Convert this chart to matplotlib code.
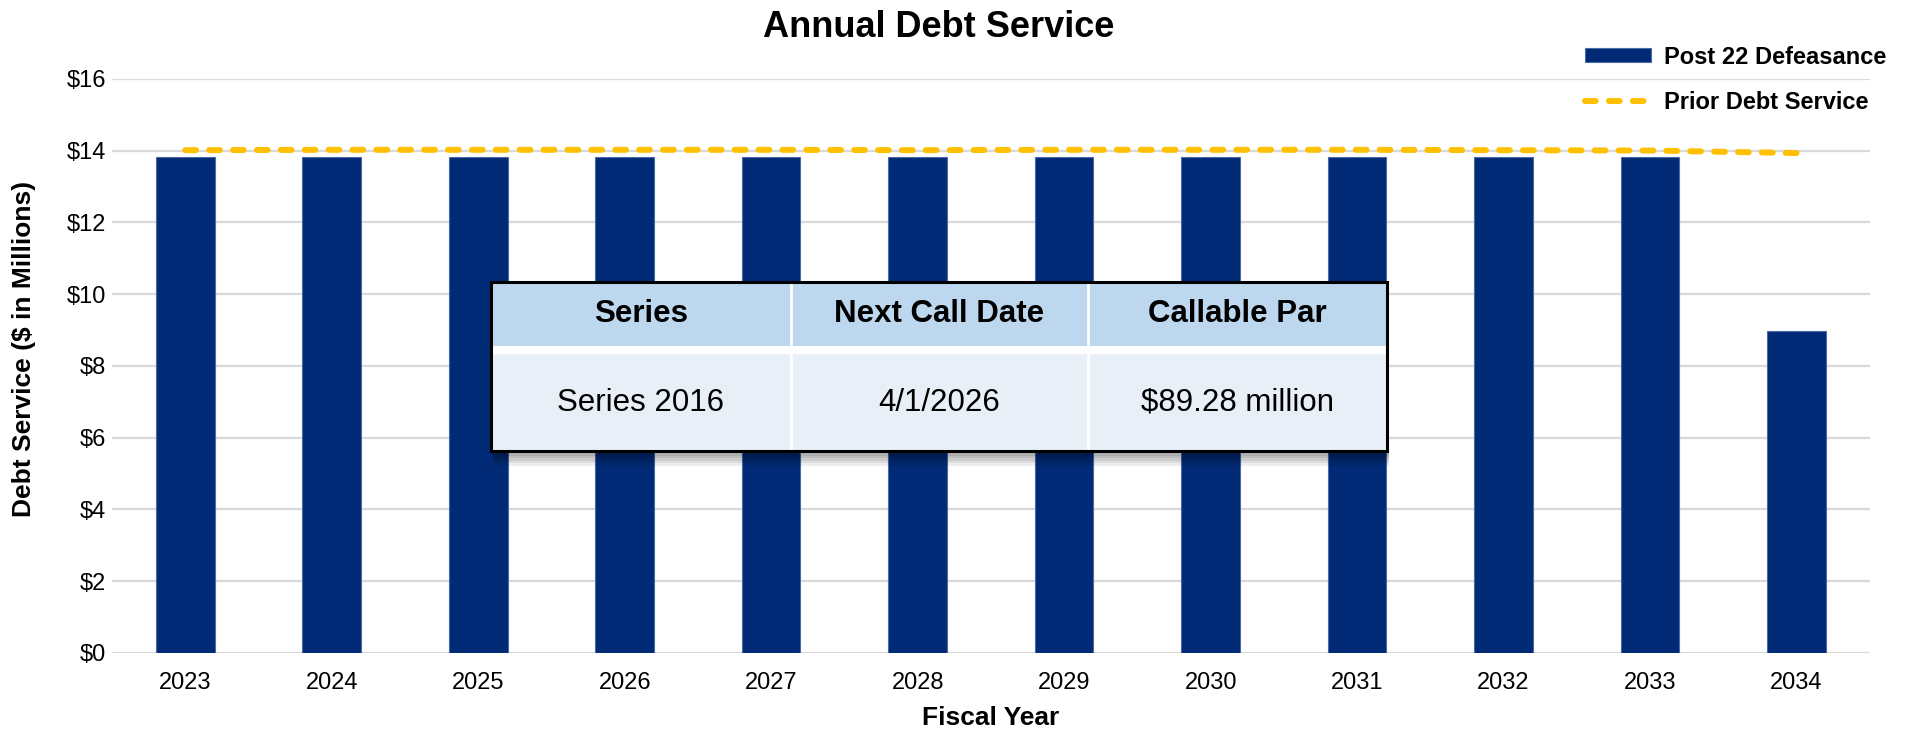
import matplotlib
matplotlib.use("Agg")
import matplotlib.pyplot as plt
from matplotlib.patches import Rectangle

plt.rcParams['font.family'] = ['Liberation Sans', 'DejaVu Sans']

years = ['2023', '2024', '2025', '2026', '2027', '2028', '2029', '2030', '2031', '2032', '2033', '2034']
post_defeasance = [13.82, 13.83, 13.82, 13.83, 13.82, 13.82, 13.82, 13.82, 13.82, 13.82, 13.82, 8.96]
prior_service = [14.01, 14.02, 14.02, 14.02, 14.02, 14.01, 14.02, 14.02, 14.02, 14.01, 14.00, 13.93]
y_ticks = [0, 2, 4, 6, 8, 10, 12, 14, 16]

table_header = ['Series', 'Next Call Date', 'Callable Par']
table_row = ['Series 2016', '4/1/2026', '$89.28 million']

navy = '#002A75'
gold = '#FFC000'

fig = plt.figure(figsize=(19.08, 7.36), dpi=100)
ax = fig.add_axes([0.0587, 0.1128, 0.9213, 0.7802])

x = list(range(len(years)))
bars = ax.bar(x, post_defeasance, width=0.4, color=navy, edgecolor='#4A6AA8', linewidth=0.8,
              label='Post 22 Defeasance', zorder=2)
line, = ax.plot(x, prior_service, color=gold, linewidth=4.3, linestyle=(0, (1.8, 2.2)),
                dash_capstyle='round', label='Prior Debt Service', zorder=3)

ax.set_xlim(-0.5, len(years) - 0.5)
ax.set_ylim(0, 16)
ax.set_yticks(y_ticks)
ax.set_yticklabels(['$%d' % v for v in y_ticks])
ax.set_xticks(x)
ax.set_xticklabels(years)
ax.grid(axis='y', color='#D9D9D9', linewidth=1.6, zorder=0)
ax.set_axisbelow(True)
for s in ax.spines.values():
    s.set_visible(False)
ax.tick_params(axis='both', length=0, labelsize=17)
ax.tick_params(axis='x', pad=14)
ax.tick_params(axis='y', pad=4)

fig.text(0.492, 0.963, 'Annual Debt Service', ha='center', va='center',
         fontsize=26, fontweight='bold')
fig.text(0.519, 0.0245, 'Fiscal Year', ha='center', va='center',
         fontsize=19, fontweight='bold')
fig.text(0.0126, 0.526, 'Debt Service ($ in Millions)', ha='center', va='center',
         rotation=90, fontsize=19, fontweight='bold')

fig.legend([bars, line], ['Post 22 Defeasance', 'Prior Debt Service'],
           loc='upper left', bbox_to_anchor=(0.8307, 0.938), frameon=False,
           prop={'weight': 'bold', 'size': 17},
           handlelength=2.8, handleheight=0.55, handletextpad=0.55,
           labelspacing=0.95, borderpad=0, borderaxespad=0)

# call table overlay
t_left, t_right = 0.2573, 0.7269
t_top, t_bot = 0.6168, 0.3872
h_bot, b_top = 0.5299, 0.519
col_edges = [t_left, 0.4146, 0.570, t_right]

for i in range(6):
    off = 0.0015 * (i + 1)
    fig.add_artist(Rectangle((t_left + 0.001, t_bot - off * 2.2), t_right - t_left,
                             t_top - t_bot, transform=fig.transFigure,
                             facecolor='black', alpha=0.07, edgecolor='none', zorder=4))
fig.add_artist(Rectangle((t_left, t_bot), t_right - t_left, t_top - t_bot,
                         transform=fig.transFigure, facecolor='white',
                         edgecolor='none', zorder=5))
fig.add_artist(Rectangle((t_left, h_bot), t_right - t_left, t_top - h_bot,
                         transform=fig.transFigure, facecolor='#BDD7EE',
                         edgecolor='none', zorder=5))
fig.add_artist(Rectangle((t_left, t_bot), t_right - t_left, b_top - t_bot,
                         transform=fig.transFigure, facecolor='#E8EFF7',
                         edgecolor='none', zorder=5))
for ce in col_edges[1:-1]:
    fig.add_artist(plt.Line2D([ce, ce], [t_bot, t_top], transform=fig.transFigure,
                              color='white', linewidth=2, zorder=6))
fig.add_artist(Rectangle((t_left, t_bot), t_right - t_left, t_top - t_bot,
                         transform=fig.transFigure, facecolor='none',
                         edgecolor='black', linewidth=2.2, zorder=7))
for j in range(3):
    cx = (col_edges[j] + col_edges[j + 1]) / 2
    fig.text(cx, (t_top + h_bot) / 2, table_header[j], ha='center', va='center',
             fontsize=22.5, fontweight='bold', zorder=8)
    fig.text(cx, (b_top + t_bot) / 2, table_row[j], ha='center', va='center',
             fontsize=22.5, zorder=8)

fig.savefig('out.png', dpi=100)
